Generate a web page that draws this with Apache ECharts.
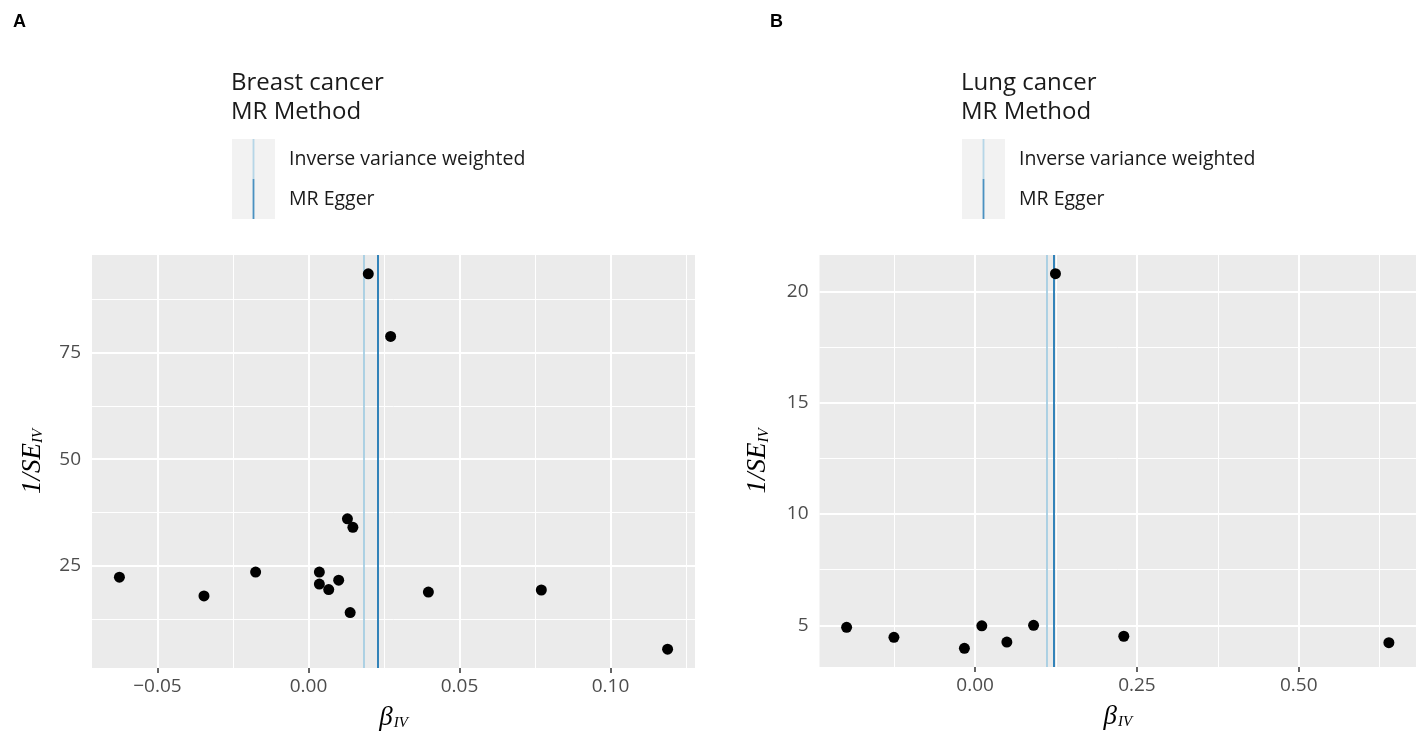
<!DOCTYPE html>
<html><head><meta charset="utf-8">
<script src="https://cdn.jsdelivr.net/npm/echarts@6/dist/echarts.min.js"></script>
<style>html,body{margin:0;padding:0;background:#fff}#c{width:1416px;height:738px}</style>
</head><body><div id="c"></div>
<script>
// Panel A: Breast cancer
const betaA = [-0.0626, -0.0346, -0.0175, 0.0036, 0.0036, 0.0067, 0.0100, 0.0129, 0.0147, 0.0138, 0.0198, 0.0272, 0.0397, 0.0771, 0.1189];
const invSeA = [22.3, 17.9, 23.5, 23.5, 20.7, 19.4, 21.6, 36.0, 34.0, 14.0, 93.5, 78.8, 18.8, 19.3, 5.4];
const ivwA = 0.0182;
const eggerA = 0.0229;
const xTicksA = [-0.05, 0.00, 0.05, 0.10];
const xMinorA = [-0.025, 0.025, 0.075, 0.125];
const yTicksA = [25, 50, 75];
const yMinorA = [12.5, 37.5, 62.5, 87.5];

// Panel B: Lung cancer
const betaB = [-0.1986, -0.1255, -0.0166, 0.0103, 0.0490, 0.0903, 0.1241, 0.2297, 0.6393];
const invSeB = [4.91, 4.46, 3.97, 4.98, 4.25, 5.00, 20.79, 4.51, 4.22];
const ivwB = 0.1103;
const eggerB = 0.1214;
const xTicksB = [0.00, 0.25, 0.50];
const xMinorB = [-0.125, 0.125, 0.375, 0.625];
const yTicksB = [5, 10, 15, 20];
const yMinorB = [7.5, 12.5, 17.5];

const methodNames = ['Inverse variance weighted', 'MR Egger'];
const methodColors = ['#a6cee3', '#1f78b4'];

function pad(arr) {
  const lo = Math.min(...arr), hi = Math.max(...arr), d = (hi - lo) * 0.05;
  return [lo - d, hi + d];
}
const xrA = pad(betaA), yrA = pad(invSeA), xrB = pad(betaB), yrB = pad(invSeB);

const fmtX = v => (v < 0 ? '\u2212' : '') + Math.abs(v).toFixed(2);
const serif = 'Liberation Serif';
const sans = 'Open Sans';

function xAxis(idx, range, ticks) {
  return {
    type: 'value', gridIndex: idx, min: range[0], max: range[1],
    axisLine: {show: false}, splitLine: {show: false},
    axisTick: {show: true, customValues: ticks, length: 5, lineStyle: {color: '#333333', width: 1.5}},
    axisLabel: {customValues: ticks, formatter: fmtX, color: '#4d4d4d', fontSize: 19, fontFamily: sans, margin: 9},
    name: '{b|\u03b2}{s|IV}', nameLocation: 'middle', nameGap: 36,
    nameTextStyle: {rich: {
      b: {fontFamily: serif, fontStyle: 'italic', fontSize: 27, color: '#000'},
      s: {fontFamily: serif, fontStyle: 'italic', fontSize: 15, color: '#000', verticalAlign: 'bottom', padding: [0, 0, 0, 1]}
    }}
  };
}
function yAxis(idx, range, ticks, gap) {
  return {
    type: 'value', gridIndex: idx, min: range[0], max: range[1],
    axisLine: {show: false}, splitLine: {show: false},
    axisTick: {show: true, customValues: ticks, length: 5, lineStyle: {color: '#333333', width: 1.5}},
    axisLabel: {customValues: ticks, color: '#4d4d4d', fontSize: 19, fontFamily: sans, margin: 11},
    name: '{m|1/SE}{s|IV}', nameLocation: 'middle', nameGap: gap,
    nameTextStyle: {rich: {
      m: {fontFamily: serif, fontStyle: 'italic', fontSize: 27, color: '#000'},
      s: {fontFamily: serif, fontStyle: 'italic', fontSize: 15, color: '#000', verticalAlign: 'bottom'}
    }}
  };
}
function gridLines(idx, xMaj, xMin, yMaj, yMin) {
  const d = [];
  xMin.forEach(v => d.push({xAxis: v, lineStyle: {width: 1}}));
  yMin.forEach(v => d.push({yAxis: v, lineStyle: {width: 1}}));
  xMaj.forEach(v => d.push({xAxis: v, lineStyle: {width: 2}}));
  yMaj.forEach(v => d.push({yAxis: v, lineStyle: {width: 2}}));
  return {
    type: 'scatter', name: 'grid' + idx, xAxisIndex: idx, yAxisIndex: idx, data: [], silent: true,
    markLine: {symbol: ['none', 'none'], silent: true, precision: 10, z: 1, label: {show: false}, emphasis: {disabled: true},
      lineStyle: {color: '#ffffff', type: 'solid'}, data: d}
  };
}
function methodSeries(idx, values) {
  return methodNames.map((n, i) => ({
    type: 'scatter', name: n, xAxisIndex: idx, yAxisIndex: idx, data: [], silent: true,
    itemStyle: {color: methodColors[i]},
    markLine: {symbol: ['none', 'none'], silent: true, precision: 10, z: 2, label: {show: false}, emphasis: {disabled: true},
      lineStyle: {color: methodColors[i], width: 1.8, type: 'solid'}, data: [{xAxis: values[i]}]}
  }));
}
function points(idx, xs, ys) {
  return {
    type: 'scatter', name: 'SNPs ' + idx, xAxisIndex: idx, yAxisIndex: idx, z: 5,
    symbolSize: 11, itemStyle: {color: '#000000', opacity: 1},
    data: xs.map((x, i) => [x, ys[i]])
  };
}
function legend(left) {
  return {
    left: left, top: 139, orient: 'vertical', padding: 0, itemGap: 0,
    itemWidth: 52, itemHeight: 40, selectedMode: false,
    icon: 'path://M0,0M52,40M20.6,0L22.4,0L22.4,40L20.6,40Z',
    itemStyle: {borderWidth: 0},
    data: methodNames,
    textStyle: {fontSize: 19.5, color: '#1a1a1a', fontFamily: sans}
  };
}

const chart = echarts.init(document.getElementById('c'));
chart.setOption({
  animation: false,
  backgroundColor: '#ffffff',
  title: [
    {text: 'A', left: 13, top: 13, padding: 0, textStyle: {fontSize: 18, fontWeight: 'bold', color: '#000', fontFamily: 'Liberation Sans'}},
    {text: 'B', left: 770, top: 13, padding: 0, textStyle: {fontSize: 18, fontWeight: 'bold', color: '#000', fontFamily: 'Liberation Sans'}},
    {text: 'Breast cancer\nMR Method', left: 231, top: 69, padding: 0, textStyle: {fontSize: 24, fontWeight: 'normal', lineHeight: 29, color: '#1a1a1a', fontFamily: sans}},
    {text: 'Lung cancer\nMR Method', left: 961, top: 69, padding: 0, textStyle: {fontSize: 24, fontWeight: 'normal', lineHeight: 29, color: '#1a1a1a', fontFamily: sans}}
  ],
  graphic: [
    {type: 'rect', shape: {x: 232, y: 139, width: 43, height: 80}, style: {fill: '#f2f2f2'}, z: 0},
    {type: 'rect', shape: {x: 962, y: 139, width: 43, height: 80}, style: {fill: '#f2f2f2'}, z: 0}
  ],
  legend: [legend(232), legend(962)],
  grid: [
    {left: 92, right: 721, top: 255, bottom: 70, show: true, backgroundColor: '#ebebeb', borderWidth: 0},
    {left: 819.5, right: -8, top: 255, bottom: 71, show: true, backgroundColor: '#ebebeb', borderWidth: 0}
  ],
  xAxis: [xAxis(0, xrA, xTicksA), xAxis(1, xrB, xTicksB)],
  yAxis: [yAxis(0, yrA, yTicksA, 46), yAxis(1, yrB, yTicksB, 48)],
  series: [
    gridLines(0, xTicksA, xMinorA, yTicksA, yMinorA),
    gridLines(1, xTicksB, xMinorB, yTicksB, yMinorB),
    ...methodSeries(0, [ivwA, eggerA]),
    ...methodSeries(1, [ivwB, eggerB]),
    points(0, betaA, invSeA),
    points(1, betaB, invSeB)
  ]
});
</script>
</body></html>
